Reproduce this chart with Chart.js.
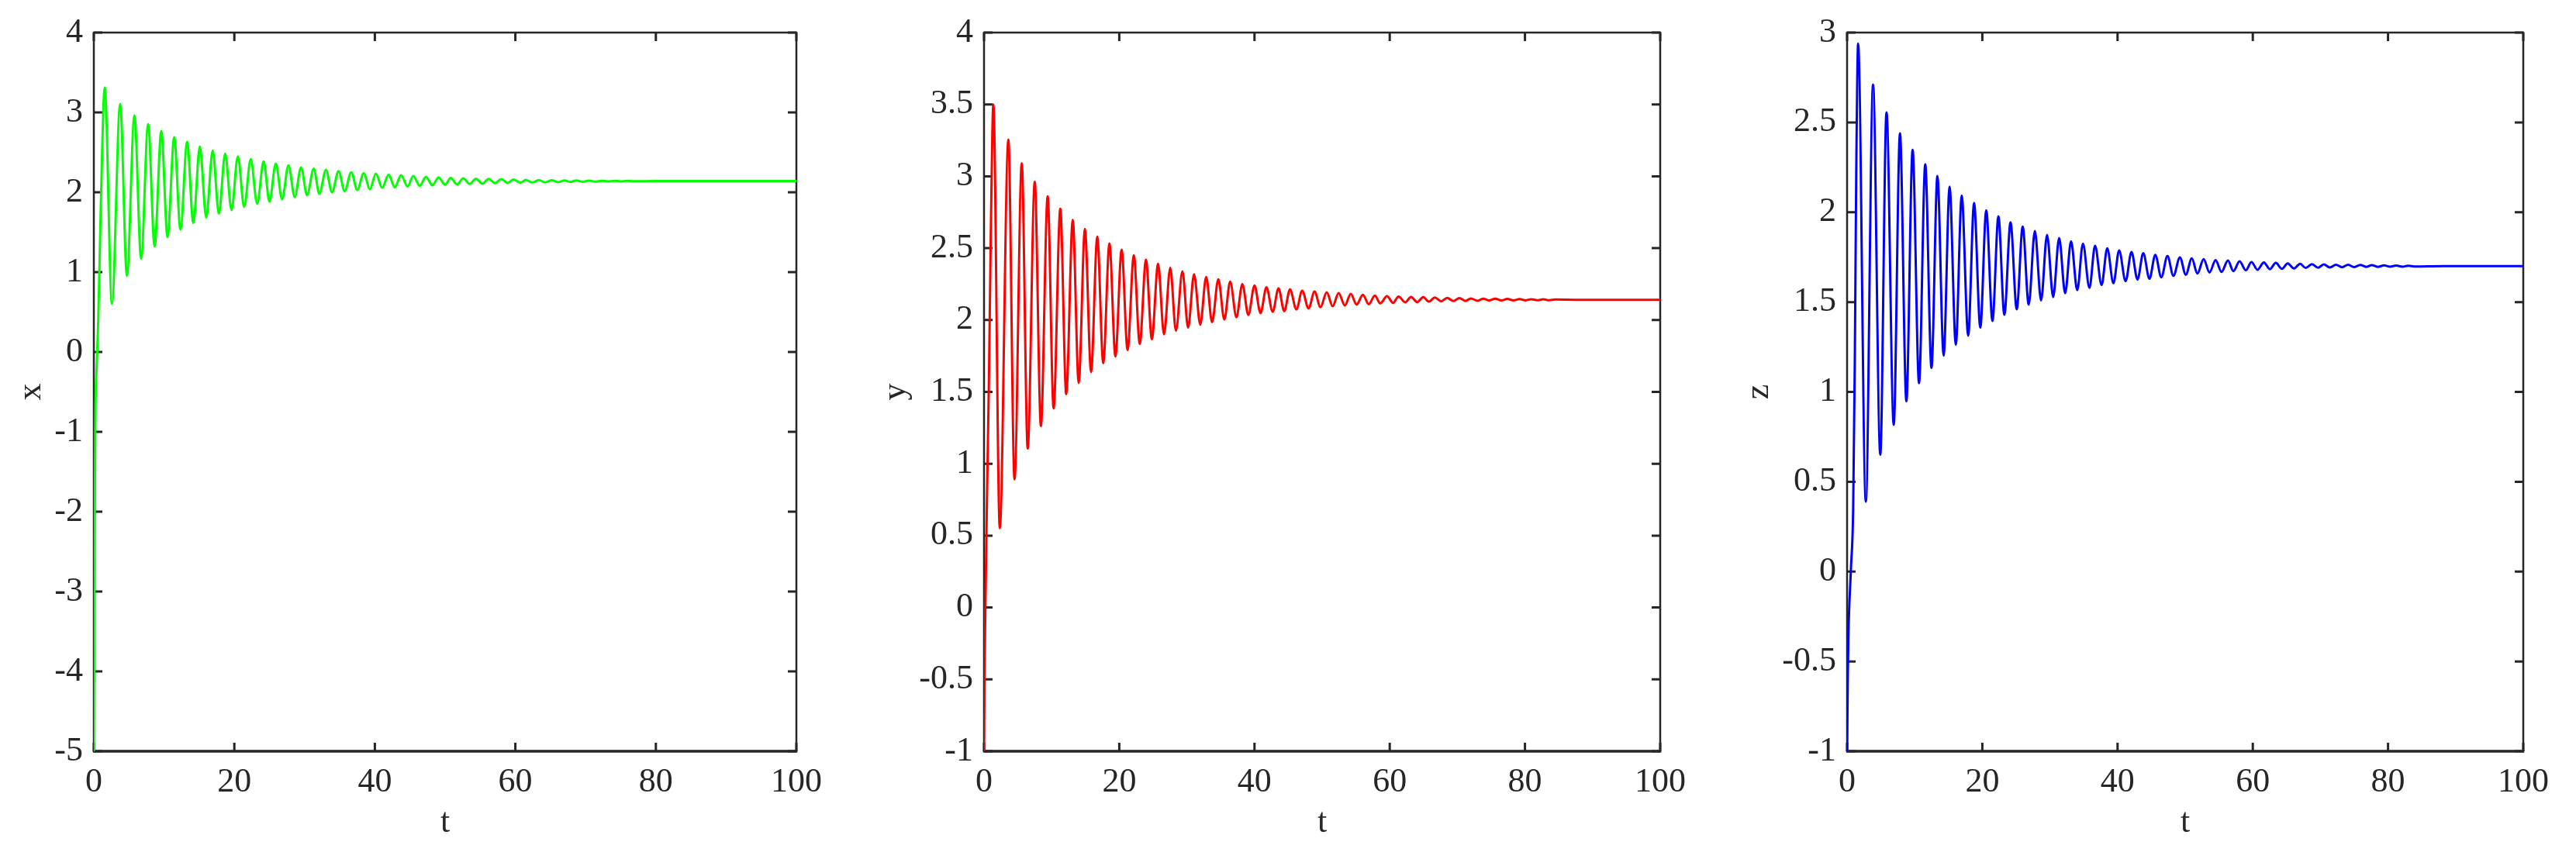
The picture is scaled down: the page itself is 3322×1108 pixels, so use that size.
<!DOCTYPE html>
<html><head><meta charset="utf-8">
<script src="https://cdn.jsdelivr.net/npm/chart.js@4.4.1/dist/chart.umd.min.js"></script>
<style>
html,body{margin:0;padding:0;background:#fff;width:3322px;height:1108px;overflow:hidden;}
canvas{position:absolute;top:0;}
</style></head><body>
<canvas id="c1" width="1100" height="1108" style="left:0px"></canvas>
<canvas id="c2" width="1100" height="1108" style="left:1100px"></canvas>
<canvas id="c3" width="1122" height="1108" style="left:2200px"></canvas>
<script>
// ---- data (extrema of the damped oscillations) ----
const tTicks = [0, 20, 40, 60, 80, 100];
const tTickLabels = ['0', '20', '40', '60', '80', '100'];

const xTicks = [-5, -4, -3, -2, -1, 0, 1, 2, 3, 4];
const xTickLabels = ['-5', '-4', '-3', '-2', '-1', '0', '1', '2', '3', '4'];
const yTicks = [-1, -0.5, 0, 0.5, 1, 1.5, 2, 2.5, 3, 3.5, 4];
const yTickLabels = ['-1', '-0.5', '0', '0.5', '1', '1.5', '2', '2.5', '3', '3.5', '4'];
const zTicks = [-1, -0.5, 0, 0.5, 1, 1.5, 2, 2.5, 3];
const zTickLabels = ['-1', '-0.5', '0', '0.5', '1', '1.5', '2', '2.5', '3'];

const tX = [0, 0.1, 0.2, 0.4, 0.63, 1.0,
  1.55, 2.58, 3.75, 4.71, 5.78, 6.73, 7.73, 8.65, 9.60, 10.49,
  11.44, 12.33, 13.28, 14.16, 15.09, 16.0, 16.92, 17.8, 18.69, 19.6,
  20.5, 21.4, 22.33, 23.25, 24.17, 25.0, 25.9, 26.8, 27.7, 28.6,
  29.5, 30.35, 31.3, 32.1, 33.04, 33.9, 34.84, 35.7, 36.64, 37.5,
  38.42, 39.3, 40.15, 41.04, 41.96, 42.85, 43.73, 44.66, 45.46, 46.4,
  47.27, 48.2, 49.07, 50.0, 50.8, 51.7, 52.6, 53.5, 54.4, 55.3,
  56.2, 57.1, 58.0, 58.9, 59.7, 60.7, 61.5, 62.4, 63.36, 64.2,
  65.2, 66.05, 67.0, 67.8, 68.7, 69.6, 70.5, 71.4, 72.3, 73.2,
  74.1, 75.0, 75.9, 76.8, 80, 100];
const xVals = [-5, -3, -1, -0.2, 0.4, 1.85,
  3.31, 0.605, 3.107, 0.955, 2.961, 1.168, 2.854, 1.323, 2.767, 1.44,
  2.689, 1.534, 2.631, 1.615, 2.573, 1.683, 2.524, 1.731, 2.482, 1.777,
  2.45, 1.818, 2.414, 1.857, 2.385, 1.883, 2.359, 1.913, 2.337, 1.942,
  2.311, 1.964, 2.295, 1.98, 2.282, 2.0, 2.265, 2.013, 2.25, 2.029,
  2.238, 2.039, 2.233, 2.055, 2.22, 2.061, 2.214, 2.071, 2.204, 2.08,
  2.194, 2.087, 2.188, 2.094, 2.18, 2.1, 2.175, 2.104, 2.17, 2.107,
  2.168, 2.113, 2.165, 2.117, 2.16, 2.12, 2.155, 2.123, 2.152, 2.125,
  2.151, 2.127, 2.149, 2.129, 2.147, 2.132, 2.146, 2.133, 2.144, 2.136,
  2.143, 2.137, 2.142, 2.138, 2.14, 2.14];

const tY = [0, 0.05, 0.2, 0.45, 0.73, 1.0,
  1.38, 2.33, 3.6, 4.51, 5.58, 6.46, 7.5, 8.41, 9.41, 10.29,
  11.28, 12.16, 13.12, 14.0, 14.92, 15.83, 16.75, 17.63, 18.55, 19.43,
  20.35, 21.23, 22.15, 23.03, 23.95, 24.82, 25.74, 26.62, 27.54, 28.38,
  29.34, 30.18, 31.06, 31.98, 32.85, 33.73, 34.65, 35.54, 36.4, 37.33,
  38.2, 39.09, 40.0, 40.89, 41.77, 42.69, 43.55, 44.4, 45.25, 46.2,
  47.05, 48.0, 48.88, 49.76, 50.68, 51.56, 52.44, 53.36, 54.24, 55.1,
  56.03, 56.9, 57.8, 58.6, 59.6, 60.5, 61.3, 62.3, 63.15, 64.06,
  64.95, 65.8, 66.67, 67.6, 68.5, 69.4, 70.3, 71.2, 72.0, 73.0,
  73.8, 74.7, 75.6, 76.5, 77.4, 78.3, 79.2, 80.1, 80.9, 81.8,
  82.7, 83.6, 84.5, 88, 100];
const yVals = [-1, -0.6, 0.0, 0.8, 1.6, 2.6,
  3.5, 0.552, 3.255, 0.892, 3.09, 1.106, 2.962, 1.263, 2.861, 1.385,
  2.774, 1.484, 2.698, 1.562, 2.634, 1.638, 2.58, 1.7, 2.533, 1.747,
  2.49, 1.791, 2.45, 1.834, 2.42, 1.867, 2.391, 1.9, 2.364, 1.925,
  2.339, 1.947, 2.319, 1.968, 2.3, 1.985, 2.284, 2.003, 2.267, 2.02,
  2.25, 2.036, 2.24, 2.048, 2.228, 2.057, 2.22, 2.062, 2.213, 2.073,
  2.204, 2.081, 2.198, 2.089, 2.193, 2.096, 2.188, 2.101, 2.182, 2.107,
  2.175, 2.11, 2.17, 2.116, 2.166, 2.119, 2.164, 2.123, 2.161, 2.125,
  2.159, 2.128, 2.157, 2.13, 2.154, 2.132, 2.153, 2.133, 2.15, 2.134,
  2.149, 2.136, 2.148, 2.136, 2.147, 2.137, 2.146, 2.137, 2.145, 2.138,
  2.144, 2.138, 2.143, 2.14, 2.14];

const tZ = [0, 0.1, 0.2, 0.55, 0.9, 1.15, 1.35,
  1.63, 2.77, 3.84, 4.91, 5.83, 6.9, 7.82, 8.77, 9.69, 10.64,
  11.56, 12.48, 13.36, 14.28, 15.16, 16.08, 16.95, 17.91, 18.78, 19.7,
  20.58, 21.5, 22.38, 23.26, 24.17, 25.09, 25.97, 26.86, 27.77, 28.69,
  29.57, 30.48, 31.36, 32.25, 33.12, 34.04, 34.88, 35.84, 36.67, 37.64,
  38.47, 39.39, 40.23, 41.19, 42.06, 42.95, 43.8, 44.72, 45.58, 46.47,
  47.38, 48.26, 49.22, 50.09, 50.98, 51.81, 52.73, 53.6, 54.5, 55.37,
  56.33, 57.13, 58.05, 58.97, 59.8, 60.69, 61.64, 62.52, 63.4, 64.3,
  65.16, 66.08, 67.0, 67.83, 68.75, 69.67, 70.5, 71.4, 72.3, 73.2,
  74.1, 74.96, 75.9, 76.76, 77.6, 78.55, 79.4, 80.3, 81.2, 82.1,
  83.0, 83.9, 88, 100];
const zVals = [-1, -0.6, -0.35, 0.0, 0.35, 1.2, 2.2,
  2.938, 0.389, 2.711, 0.65, 2.556, 0.817, 2.439, 0.948, 2.347, 1.049,
  2.266, 1.134, 2.202, 1.202, 2.142, 1.262, 2.093, 1.313, 2.052, 1.358,
  2.011, 1.395, 1.977, 1.429, 1.944, 1.46, 1.92, 1.486, 1.895, 1.509,
  1.874, 1.528, 1.857, 1.549, 1.838, 1.566, 1.825, 1.579, 1.813, 1.595,
  1.799, 1.605, 1.787, 1.617, 1.779, 1.625, 1.772, 1.63, 1.763, 1.638,
  1.756, 1.646, 1.749, 1.652, 1.743, 1.659, 1.739, 1.665, 1.734, 1.668,
  1.731, 1.672, 1.727, 1.677, 1.723, 1.68, 1.721, 1.683, 1.718, 1.685,
  1.715, 1.687, 1.713, 1.69, 1.711, 1.691, 1.71, 1.693, 1.708, 1.694,
  1.708, 1.695, 1.707, 1.696, 1.706, 1.696, 1.704, 1.697, 1.703, 1.697,
  1.702, 1.698, 1.70, 1.70];

// ---- drawing ----
const AXIS = '#262626';
const FONT = {family: "'Liberation Serif', 'Times New Roman', serif", size: 44};
const TICK_LEN = 11;

const framePlugin = {
  id: 'matlabFrame',
  beforeDatasetsDraw(chart) {
    const {ctx, chartArea: a} = chart;
    const sx = chart.scales.x, sy = chart.scales.y;
    ctx.save();
    ctx.strokeStyle = AXIS;
    ctx.lineCap = 'butt';
    ctx.lineWidth = 3;
    ctx.beginPath();
    sx.ticks.forEach(t => {
      const p = sx.getPixelForValue(t.value);
      ctx.moveTo(p, a.bottom); ctx.lineTo(p, a.bottom - TICK_LEN);
      ctx.moveTo(p, a.top); ctx.lineTo(p, a.top + TICK_LEN);
    });
    sy.ticks.forEach(t => {
      const p = sy.getPixelForValue(t.value);
      ctx.moveTo(a.left, p); ctx.lineTo(a.left + TICK_LEN, p);
      ctx.moveTo(a.right, p); ctx.lineTo(a.right - TICK_LEN, p);
    });
    ctx.stroke();
    ctx.lineWidth = 2.5;
    ctx.beginPath();
    ctx.moveTo(a.left, a.bottom); ctx.lineTo(a.left, a.top);
    ctx.lineTo(a.right, a.top); ctx.lineTo(a.right, a.bottom);
    ctx.stroke();
    ctx.lineWidth = 3.5;
    ctx.beginPath();
    ctx.moveTo(a.left - 1.25, a.bottom); ctx.lineTo(a.right + 1.25, a.bottom);
    ctx.stroke();
    ctx.restore();
  }
};

function makePanel(id, tArr, vArr, color, label, ticks, tickLabels, padLeft, padRight, yWidth) {
  const pts = tArr.map((t, i) => ({x: t, y: vArr[i]}));
  return new Chart(document.getElementById(id), {
    type: 'line',
    data: {datasets: [{data: pts, borderColor: color, borderWidth: 3, pointRadius: 0,
      cubicInterpolationMode: 'monotone', fill: false}]},
    options: {
      responsive: false, animation: false, devicePixelRatio: 1, events: [],
      layout: {autoPadding: false, padding: {left: padLeft, right: padRight, top: 42, bottom: 0}},
      plugins: {legend: {display: false}, tooltip: {enabled: false}},
      scales: {
        x: {
          type: 'linear', min: 0, max: 100,
          grid: {display: false, drawTicks: false}, border: {display: false},
          afterBuildTicks: s => { s.ticks = tTicks.map(v => ({value: v})); },
          afterFit: s => { s.height = 139; },
          ticks: {autoSkip: false, maxRotation: 0, padding: 14, color: AXIS, font: FONT,
            callback: v => tTickLabels[tTicks.indexOf(v)]},
          title: {display: true, text: 't', color: AXIS, font: FONT, padding: {top: 0, bottom: 20}}
        },
        y: {
          type: 'linear', min: ticks[0], max: ticks[ticks.length - 1],
          grid: {display: false, drawTicks: false}, border: {display: false},
          afterBuildTicks: s => { s.ticks = ticks.map(v => ({value: v})); },
          afterFit: s => { s.width = yWidth; },
          ticks: {autoSkip: false, padding: 14, color: AXIS, font: FONT,
            callback: v => tickLabels[ticks.indexOf(v)]},
          title: {display: true, text: label, color: AXIS, font: FONT, padding: {top: 0, bottom: 0}}
        }
      }
    },
    plugins: [framePlugin]
  });
}

makePanel('c1', tX, xVals, '#00ff00', 'x', xTicks, xTickLabels, 14, 73, 107);
makePanel('c2', tY, yVals, '#ff0000', 'y', yTicks, yTickLabels, 29, 59, 140);
makePanel('c3', tZ, zVals, '#0000ff', 'z', zTicks, zTickLabels, 42, 68, 140);
</script>
</body></html>
